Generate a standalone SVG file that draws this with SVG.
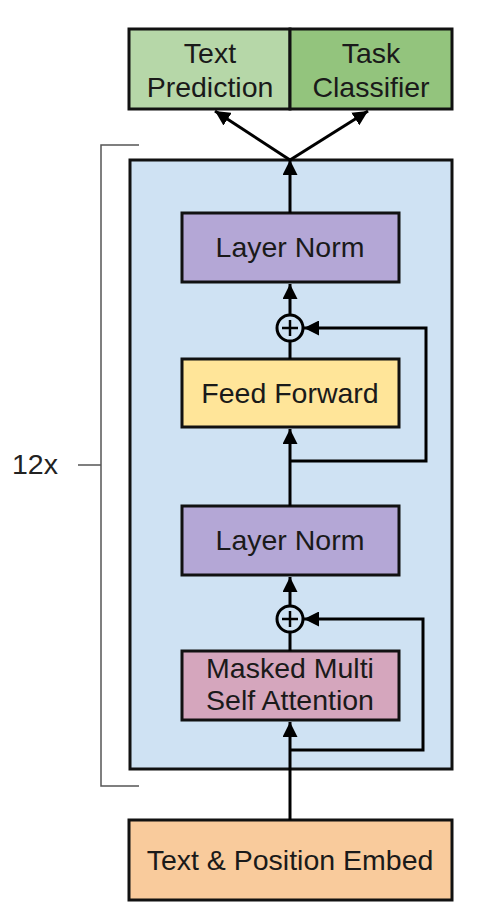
<svg xmlns="http://www.w3.org/2000/svg" width="479" height="913" viewBox="0 0 479 913">
<defs>
<marker id="ah" viewBox="0 0 15 15" refX="15" refY="7.5" markerWidth="15" markerHeight="15" markerUnits="userSpaceOnUse" orient="auto">
<path d="M0,0 L15,7.5 L0,15 z" fill="#000"/>
</marker>
</defs>
<style>
.box{stroke:#111;stroke-width:3}
.t{font-family:"Liberation Sans",Arial,sans-serif;font-size:28.5px;fill:#1a1a1a;text-anchor:middle}
.c{fill:none;stroke:#000;stroke-width:3}
.a{marker-end:url(#ah)}
.br{fill:none;stroke:#555;stroke-width:1.5}
</style>
<rect width="479" height="913" fill="#fff"/>
<g id="bracket">
<path class="br" d="M139,145 H101 V786 H139 M78,465 H101"/>
<text x="12" y="474" font-family="Liberation Sans,Arial,sans-serif" font-size="28.5" fill="#222">12x</text>
</g>
<g id="block">
<rect class="box" x="130" y="160" width="322" height="609" fill="#cfe2f3"/>
</g>
<g id="text-prediction">
<rect class="box" x="129" y="29" width="161" height="80" fill="#b6d7a8"/>
<text class="t" x="210" y="63">Text</text>
<text class="t" x="210" y="97">Prediction</text>
</g>
<g id="task-classifier">
<rect class="box" x="290" y="29" width="162" height="80" fill="#93c47d"/>
<text class="t" x="371" y="63">Task</text>
<text class="t" x="371" y="97">Classifier</text>
</g>
<g id="layer-norm-1">
<rect class="box" x="182" y="213" width="217" height="69" fill="#b4a7d6"/>
<text class="t" x="290" y="257">Layer Norm</text>
</g>
<g id="add-1">
<circle cx="290" cy="328" r="13" fill="#cfe2f3" stroke="#000" stroke-width="3"/>
<path d="M282,328 H298 M290,320 V336" stroke="#000" stroke-width="2.5"/>
</g>
<g id="feed-forward">
<rect class="box" x="182" y="359" width="217" height="68" fill="#ffe599"/>
<text class="t" x="290" y="403">Feed Forward</text>
</g>
<g id="layer-norm-2">
<rect class="box" x="182" y="506" width="217" height="69" fill="#b4a7d6"/>
<text class="t" x="290" y="550">Layer Norm</text>
</g>
<g id="add-2">
<circle cx="290" cy="619" r="13" fill="#cfe2f3" stroke="#000" stroke-width="3"/>
<path d="M282,619 H298 M290,611 V627" stroke="#000" stroke-width="2.5"/>
</g>
<g id="masked-attention">
<rect class="box" x="182" y="651" width="217" height="69" fill="#d5a6bd"/>
<text class="t" x="290" y="678">Masked Multi</text>
<text class="t" x="290" y="710">Self Attention</text>
</g>
<g id="embed">
<rect class="box" x="129" y="820" width="323" height="80" fill="#f9cb9c"/>
<text class="t" x="290" y="870">Text &amp; Position Embed</text>
</g>
<g id="connectors">
<path class="c a" d="M290,820 V722"/>
<path class="c a" d="M290,750 H423 V619 H304"/>
<path class="c" d="M290,651 V632"/>
<path class="c a" d="M290,606 V577"/>
<path class="c a" d="M290,506 V429"/>
<path class="c a" d="M290,461 H426 V328 H304"/>
<path class="c" d="M290,359 V341"/>
<path class="c a" d="M290,315 V284"/>
<path class="c a" d="M290,213 V160"/>
<path class="c a" d="M290,160 L215,111"/>
<path class="c a" d="M290,160 L368,111"/>
</g>
</svg>
